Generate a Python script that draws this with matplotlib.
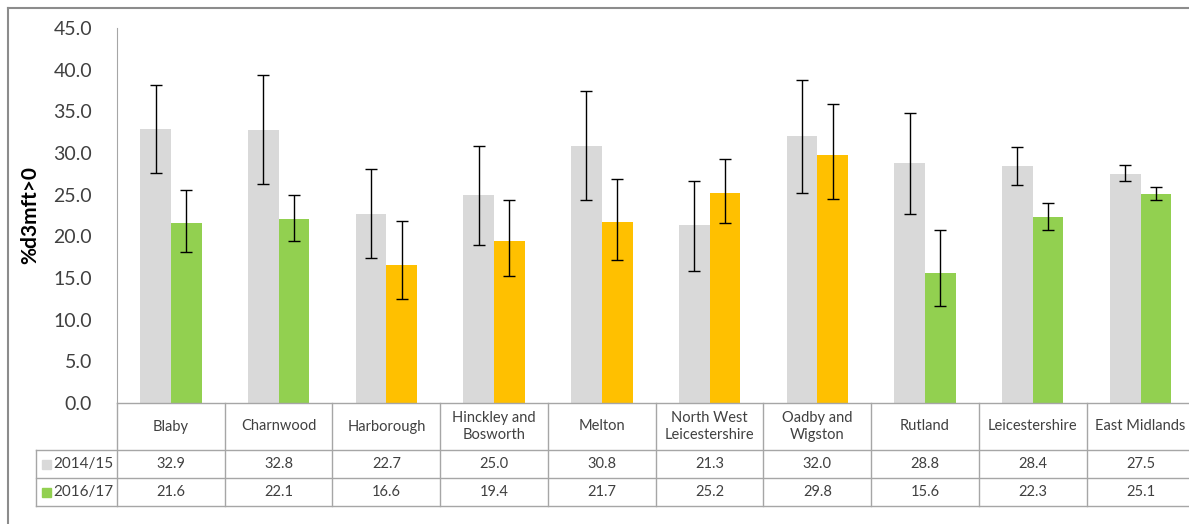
import numpy as np
import matplotlib.pyplot as plt
from matplotlib.lines import Line2D
from matplotlib.patches import Rectangle
from matplotlib.ticker import FormatStrFormatter

plt.rcParams['font.family'] = ['Lato', 'DejaVu Sans']

areas = ["Blaby", "Charnwood", "Harborough", "Hinckley and\nBosworth", "Melton",
         "North West\nLeicestershire", "Oadby and\nWigston", "Rutland",
         "Leicestershire", "East Midlands"]
val_1415 = [32.9, 32.8, 22.7, 25.0, 30.8, 21.3, 32.0, 28.8, 28.4, 27.5]
val_1617 = [21.6, 22.1, 16.6, 19.4, 21.7, 25.2, 29.8, 15.6, 22.3, 25.1]
# 95% confidence limits
lo_1415 = [27.6, 26.3, 17.4, 19.0, 24.3, 15.8, 25.2, 22.7, 26.2, 26.6]
hi_1415 = [38.2, 39.4, 28.1, 30.8, 37.5, 26.7, 38.7, 34.8, 30.7, 28.5]
lo_1617 = [18.1, 19.5, 12.5, 15.3, 17.2, 21.6, 24.5, 11.6, 20.8, 24.3]
hi_1617 = [25.5, 25.0, 21.8, 24.3, 26.9, 29.3, 35.9, 20.8, 24.0, 25.9]
# significance vs England: better (green) or similar (amber)
sig_1617 = ["better", "better", "similar", "similar", "similar", "similar",
            "similar", "better", "better", "better"]

GREY = "#D9D9D9"
GREEN = "#92D050"
AMBER = "#FFC000"
LINE = "#A6A6A6"

W, H = 1189, 524
fig = plt.figure(figsize=(W / 100, H / 100), dpi=100)
ax = fig.add_axes([117 / W, 1 - 403 / H, (1189 - 117) / W, 375 / H])

x = np.arange(len(areas))
bw = 0.285
col_1617 = [GREEN if s == "better" else AMBER for s in sig_1617]

v1 = np.array(val_1415)
v2 = np.array(val_1617)
err1 = [v1 - np.array(lo_1415), np.array(hi_1415) - v1]
err2 = [v2 - np.array(lo_1617), np.array(hi_1617) - v2]

ax.bar(x - bw / 2, v1, bw, color=GREY, zorder=2)
ax.bar(x + bw / 2, v2, bw, color=col_1617, zorder=2)
ax.errorbar(x - bw / 2, v1, yerr=err1, fmt="none", ecolor="black",
            elinewidth=1, capsize=4.5, capthick=1, zorder=3)
ax.errorbar(x + bw / 2, v2, yerr=err2, fmt="none", ecolor="black",
            elinewidth=1, capsize=4.5, capthick=1, zorder=3)

ax.set_xlim(-0.5, 9.45)
ax.set_ylim(0, 45)
ax.set_yticks(np.arange(0, 46, 5))
ax.yaxis.set_major_formatter(FormatStrFormatter("%.1f"))
ax.tick_params(axis="y", length=0, labelsize=14, pad=18, colors="#404040")
ax.tick_params(axis="x", length=0, labelbottom=False)
for s in ["top", "right", "bottom"]:
    ax.spines[s].set_visible(False)
ax.spines["left"].set_color(LINE)
ax.set_ylabel("%d3mft>0", fontsize=15, fontweight="bold")
ax.yaxis.set_label_coords(-0.072, 0.5)

# data table under the bars (x in data units, y in axes fraction)
tr = ax.get_xaxis_transform()
y_hdr, y_r1, y_r2 = -47 / 375, -75 / 375, -103 / 375
x_leg = -0.5 - 81 / 107.2
x_end = 9.6

def hline(x0, x1, y):
    ax.add_line(Line2D([x0, x1], [y, y], transform=tr, color=LINE, lw=1, clip_on=False))

def vline(xx, y0, y1):
    ax.add_line(Line2D([xx, xx], [y0, y1], transform=tr, color=LINE, lw=1, clip_on=False))

hline(-0.5, x_end, 0)
for yy in (y_hdr, y_r1, y_r2):
    hline(x_leg, x_end, yy)
vline(x_leg, y_hdr, y_r2)
for b in np.arange(-0.5, 9.6, 1.0):
    vline(b, 0, y_r2)

for i, name in enumerate(areas):
    ax.text(i, y_hdr / 2, name, transform=tr, ha="center", va="center",
            fontsize=10.5, color="#404040", linespacing=1.35, clip_on=False)
    ax.text(i, (y_hdr + y_r1) / 2, f"{val_1415[i]:.1f}", transform=tr,
            ha="center", va="center", fontsize=10.5, color="#404040")
    ax.text(i, (y_r1 + y_r2) / 2, f"{val_1617[i]:.1f}", transform=tr,
            ha="center", va="center", fontsize=10.5, color="#404040")

for (ylo, yhi), lab, c in [((y_r1, y_hdr), "2014/15", GREY), ((y_r2, y_r1), "2016/17", GREEN)]:
    ym = (ylo + yhi) / 2
    sq = 9 / 375
    ax.add_patch(Rectangle((x_leg + 0.06, ym - sq / 2), 0.08, sq, transform=tr,
                           color=c, clip_on=False))
    ax.text(x_leg + 0.16, ym, lab, transform=tr, ha="left", va="center",
            fontsize=11, color="#404040")

# chart frame
fig.add_artist(Line2D([8 / W, 8 / W], [0, 1 - 8 / H], color="#8C8C8C", lw=1.5))
fig.add_artist(Line2D([8 / W, 1], [1 - 8 / H, 1 - 8 / H], color="#8C8C8C", lw=1.5))

fig.savefig("out.png", dpi=100)
